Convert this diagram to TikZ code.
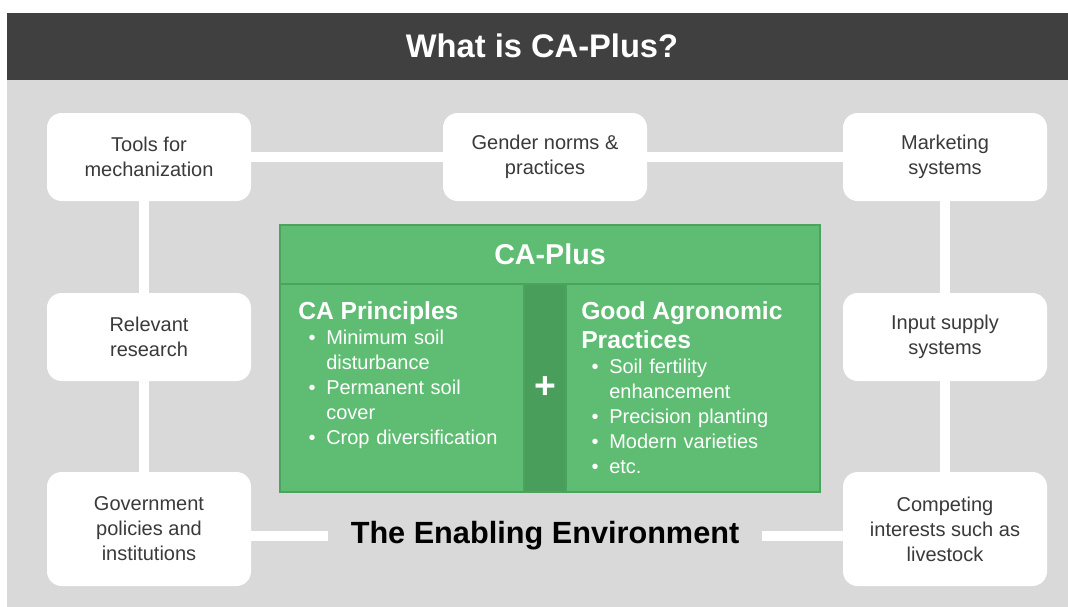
\documentclass[tikz,border=0pt]{standalone}
\usepackage{fontspec}
\setmainfont{Liberation Sans}
\usepackage{enumitem}
\usetikzlibrary{positioning}

\definecolor{band}{RGB}{64,64,64}
\definecolor{panel}{RGB}{217,217,217}
\definecolor{leaf}{RGB}{94,189,115}
\definecolor{leafdark}{RGB}{72,158,90}
\definecolor{leafedge}{RGB}{76,163,94}
\definecolor{boxtext}{RGB}{58,58,58}

\tikzset{
  factor/.style={rectangle, rounded corners=11pt, fill=white, minimum width=153pt,
    minimum height=66pt, align=center, text=boxtext, font=\fontsize{15}{18.75}\selectfont},
  link/.style={white, line width=7.5pt},
  greenbox/.style={rectangle, fill=leaf, draw=leafedge, line width=1.5pt, inner sep=0pt},
  panelnote/.style={anchor=north west, inner sep=0pt, text=white, align=left,
    font=\fontsize{15}{18.75}\selectfont},
}

\newcommand{\panelhead}[1]{{\fontsize{18.5}{21.75}\selectfont\bfseries #1\par}}
\setlist[itemize]{leftmargin=21pt, labelsep=8pt, itemsep=0pt, topsep=0pt,
  parsep=0pt, partopsep=0pt, label=\textbullet}

\begin{document}
\begin{tikzpicture}[x=0.75pt, y=-0.75pt]
\useasboundingbox (0,0) rectangle (1068,607);

% Background and title band
\fill[panel] (7,80) rectangle (1068,607);
\fill[band] (7,13) rectangle (1068,80);
\node[white, font=\bfseries\fontsize{24.5}{29}\selectfont] (title) at (542,46) {What is CA-Plus?};

% Enabling environment boxes
\node[factor] (tools) at (149,157) {Tools for\\mechanization};
\node[factor] (gender) at (545,157) {Gender norms \&\\practices};
\node[factor] (market) at (945,157) {Marketing\\systems};
\node[factor] (research) at (149,337) {Relevant\\research};
\node[factor] (input) at (945,337) {Input supply\\systems};
\node[factor, minimum height=85.5pt] (gov) at (149,529) {Government\\policies and\\institutions};
\node[factor, minimum height=85.5pt] (compete) at (945,529) {Competing\\interests such as\\livestock};
\node[font=\bfseries\fontsize{23}{28}\selectfont, inner xsep=17pt] (env) at (545,536) {The Enabling Environment};

% White links round the frame
\draw[link] (tools) -- (gender);
\draw[link] (gender) -- (market);
\draw[link] ([xshift=-3.5pt]tools.south) -- ([xshift=-3.5pt]research.north);
\draw[link] ([xshift=-3.5pt]research.south) -- ([xshift=-3.5pt]gov.north);
\draw[link] (market) -- (input);
\draw[link] (input) -- (compete);
\draw[link] (env.west) -- (env.west -| gov.east);
\draw[link] (env.east) -- (env.east -| compete.west);

% CA-Plus block
\node[greenbox, minimum width=405pt, minimum height=44.25pt, text=white,
  font=\bfseries\fontsize{21.5}{26}\selectfont] (head) at (550,254.5) {CA-Plus};
\node[greenbox, minimum width=183pt, minimum height=156pt] (principles) at (402,388) {};
\node[greenbox, minimum width=190.5pt, minimum height=156pt] (practices) at (693,388) {};
\node[greenbox, fill=leafdark, minimum width=31.5pt, minimum height=156pt, text=white,
  font=\bfseries\fontsize{28}{30}\selectfont] (joint) at (545,388) {+};

\node[panelnote, text width=180pt] (principlesText) at (298,301) {%
  \panelhead{CA Principles}
  \begin{itemize}
    \item Minimum soil\\disturbance
    \item Permanent soil\\cover
    \item Crop diversification
  \end{itemize}};
\node[panelnote, text width=175pt] (practicesText) at (581,301) {%
  \panelhead{Good Agronomic\\Practices}
  \begin{itemize}
    \item Soil fertility\\enhancement
    \item Precision planting
    \item Modern varieties
    \item etc.
  \end{itemize}};
\end{tikzpicture}
\end{document}
